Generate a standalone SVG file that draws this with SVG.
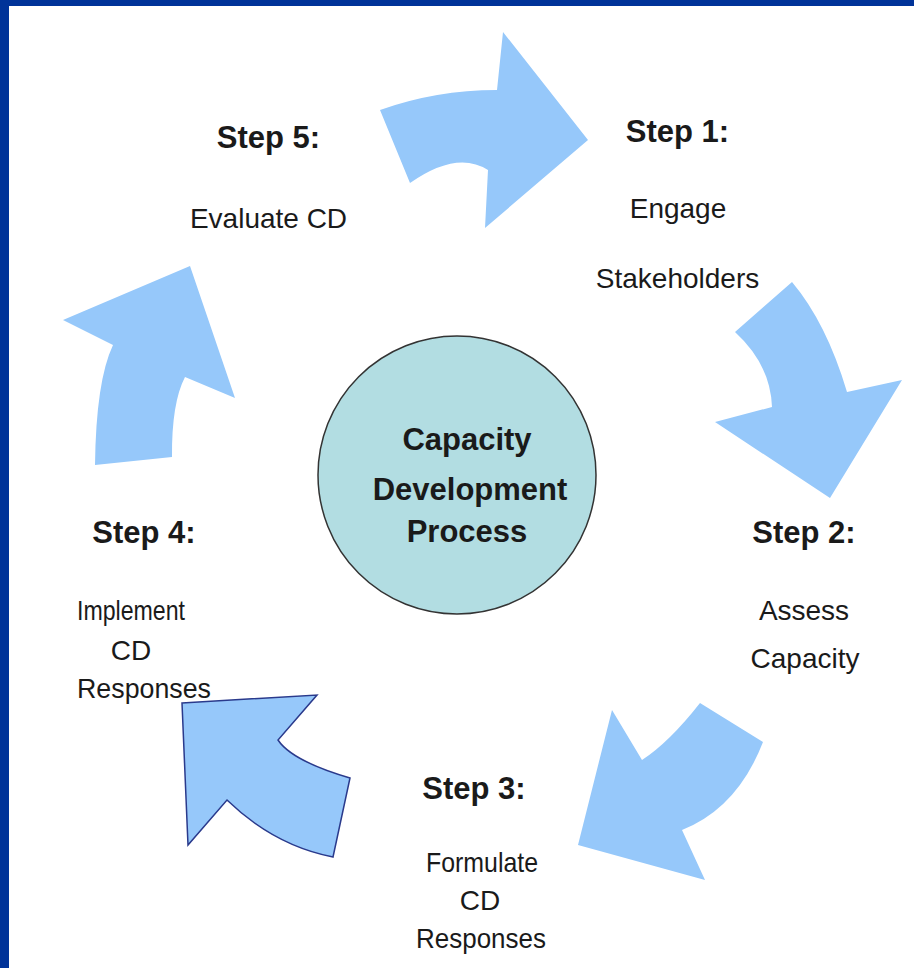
<svg xmlns="http://www.w3.org/2000/svg" width="914" height="968" viewBox="0 0 914 968">
<style>
.arrow{fill:#96c8fa;stroke:none}
.arrow.outl{stroke:#2a3a8c;stroke-width:1.5;stroke-linejoin:miter}
.step{font-family:"Liberation Sans",Arial,sans-serif;font-weight:bold;font-size:31px;fill:#1a1a1a;text-anchor:middle}
.lbl{font-family:"Liberation Sans",Arial,sans-serif;font-size:28px;fill:#1a1a1a;text-anchor:middle}
.ctr{font-family:"Liberation Sans",Arial,sans-serif;font-weight:bold;font-size:31px;fill:#1a1a1a;text-anchor:middle}
</style>
<rect x="0" y="0" width="914" height="968" fill="#ffffff"/>
<rect x="0" y="0" width="914" height="6" fill="#003399"/>
<rect x="0" y="0" width="9" height="968" fill="#003399"/>
<g id="connectors">
<path class="arrow" d="M380,110 Q436,90 497,90 L503,32 L588,140 L485,228 L488,170 Q457,150 410,183 Z"/>
<path class="arrow" d="M735,332 L792,282 Q826.5,323 847,392 L902,380 L830,498 L715,422 L772,407 Q770.5,364.5 735,332 Z"/>
<path class="arrow" d="M700,703 L763,742 Q737.5,808 682,830 L705,880 L578,845 L612,710 L642,760 Q669,742.5 700,703 Z"/>
<path class="arrow outl" d="M182,703 L317,695 L278,740 Q292,761 350,778 L333,857 Q274,845.5 227,800 L188,845 Z"/>
<path class="arrow" d="M95,465 L172,457 Q171.5,403 185,377 L235,398 L190,266 L63,320 L113,345 Q96,381 95,465 Z"/>
</g>
<g id="center">
<circle cx="457" cy="475" r="139" fill="#b2dde2" stroke="#333333" stroke-width="1.5"/>
<text class="ctr" x="467" y="450">Capacity</text>
<text class="ctr" x="470" y="500">Development</text>
<text class="ctr" x="467" y="542">Process</text>
</g>
<g id="step1">
<text class="step" x="677.5" y="142">Step 1:</text>
<text class="lbl" x="678" y="218">Engage</text>
<text class="lbl" x="677.5" y="288">Stakeholders</text>
</g>
<g id="step2">
<text class="step" x="804" y="543">Step 2:</text>
<text class="lbl" x="804" y="620">Assess</text>
<text class="lbl" x="805" y="668">Capacity</text>
</g>
<g id="step3">
<text class="step" x="474" y="799">Step 3:</text>
<text class="lbl" x="482" y="872" textLength="112" lengthAdjust="spacingAndGlyphs">Formulate</text>
<text class="lbl" x="480" y="910">CD</text>
<text class="lbl" x="481" y="948" textLength="130" lengthAdjust="spacingAndGlyphs">Responses</text>
</g>
<g id="step4">
<text class="step" x="144" y="543">Step 4:</text>
<text class="lbl" x="131" y="620" textLength="108" lengthAdjust="spacingAndGlyphs">Implement</text>
<text class="lbl" x="131" y="660">CD</text>
<text class="lbl" x="144" y="698" textLength="134" lengthAdjust="spacingAndGlyphs">Responses</text>
</g>
<g id="step5">
<text class="step" x="268.5" y="148">Step 5:</text>
<text class="lbl" x="268.5" y="228">Evaluate CD</text>
</g>
</svg>
